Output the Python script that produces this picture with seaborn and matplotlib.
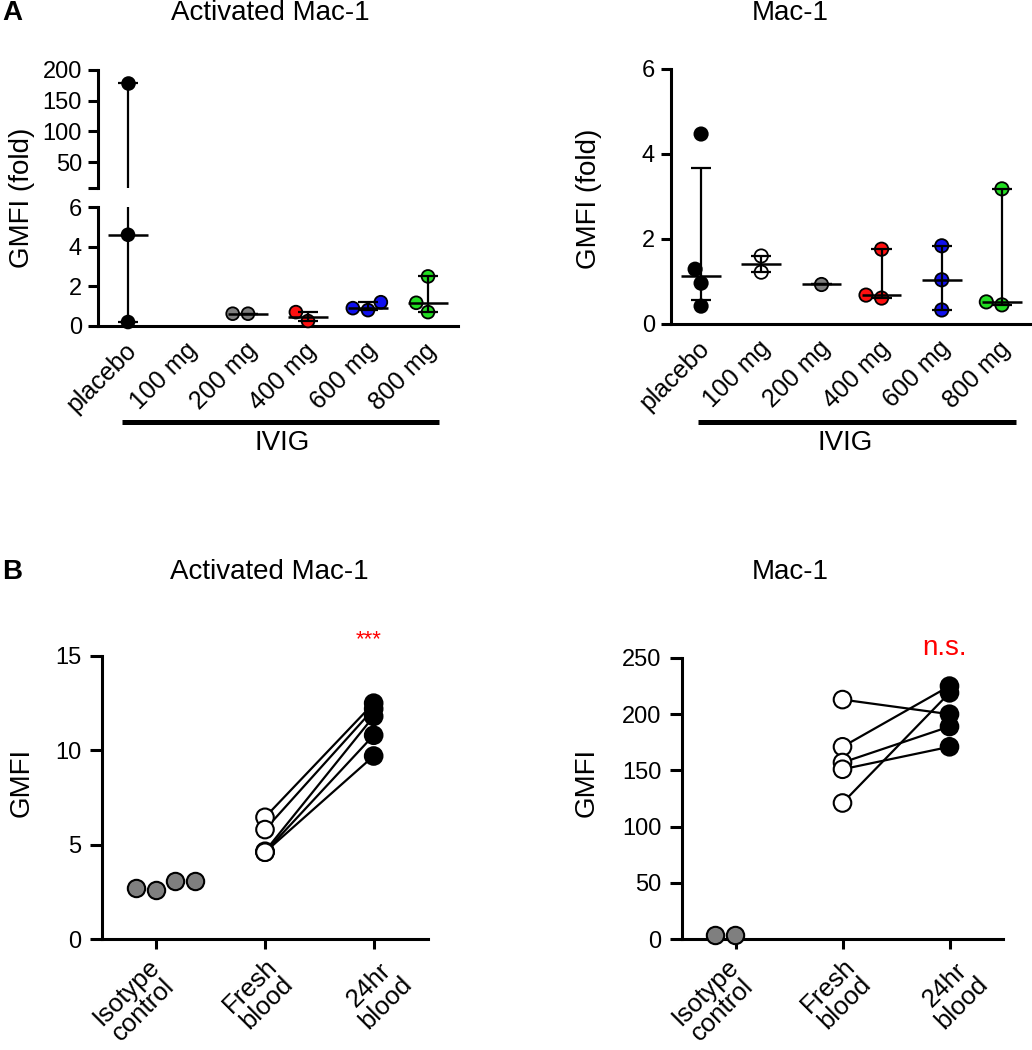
import numpy as np
import pandas as pd
import matplotlib
matplotlib.use("Agg")
import matplotlib.pyplot as plt
import matplotlib.transforms as mtransforms
from matplotlib.lines import Line2D
import seaborn as sns

# ---------------- data ----------------
doses = ["placebo", "100 mg", "200 mg", "400 mg", "600 mg", "800 mg"]

# Panel A, Activated Mac-1 (GMFI fold)
act_placebo = [179.0, 4.6, 0.2]
act_100 = []
act_200 = [0.62, 0.62]
act_400 = [0.25, 0.70]
act_600 = [1.2, 0.8, 0.9]
act_800 = [2.5, 1.17, 0.7]

# Panel A, Mac-1 (GMFI fold)
mac_placebo = [4.47, 1.29, 0.96, 0.42]
mac_100 = [1.22, 1.60]
mac_200 = [0.95]
mac_400 = [1.76, 0.61, 0.68]
mac_600 = [1.84, 1.04, 0.33]
mac_800 = [3.18, 0.45, 0.52]

# Panel B
conditions = ["Isotype\ncontrol", "Fresh\nblood", "24hr\nblood"]
iso_act = [3.05, 2.6, 2.7, 3.05]
fresh_act = [6.45, 5.8, 4.65, 4.6, 4.6]
h24_act = [12.5, 12.2, 11.8, 10.8, 9.7]
iso_mac = [3.5, 3.8]
fresh_mac = [213, 171, 157, 151, 121]
h24_mac = [200, 225, 189, 171, 219]

# ---------------- style ----------------
sns.set_theme(style="ticks")
plt.rcParams["font.family"] = ["Liberation Sans", "DejaVu Sans"]
plt.rcParams["axes.linewidth"] = 2.2
plt.rcParams["axes.edgecolor"] = "black"
for k in ["text.color", "xtick.color", "ytick.color", "axes.labelcolor"]:
    plt.rcParams[k] = "black"

dose_colors = {"placebo": "black", "100 mg": "white", "200 mg": "#7f7f7f",
               "400 mg": "#ff1010", "600 mg": "#1010ee", "800 mg": "#22dd22"}

W, H = 1032, 1050
fig = plt.figure(figsize=(W / 100, H / 100), dpi=100)


def ax_px(l, t, r, b):
    return fig.add_axes([l / W, 1 - b / H, (r - l) / W, (b - t) / H])


def ftext(x, y, s, **kw):
    fig.text(x / W, 1 - y / H, s, **kw)


def fline(x0, x1, y, lw):
    fig.add_artist(Line2D([x0 / W, x1 / W], [1 - y / H, 1 - y / H],
                          transform=fig.transFigure, color="black", lw=lw,
                          solid_capstyle="butt"))


def dose_frame(groups):
    rows = []
    for i, (d, vals) in enumerate(zip(doses, groups)):
        for v in vals:
            rows.append({"dose": d, "pos": float(i), "val": v})
    return pd.DataFrame(rows)


def swarm(ax, df, size, unclip):
    n0 = len(ax.collections)
    sns.swarmplot(data=df, x="pos", y="val", hue="dose", palette=dose_colors,
                  native_scale=True, orient="x", size=size, edgecolor="black",
                  linewidth=1.3, legend=False, ax=ax, zorder=3)
    if unclip:
        for c in ax.collections[n0:]:
            c.set_clip_on(False)


def median_iqr(ax, groups):
    for i, vals in enumerate(groups):
        if len(vals) == 0:
            continue
        q1, med, q3 = np.percentile(vals, [25, 50, 75], method="weibull")
        ax.vlines(i, q1, q3, color="black", lw=1.6, zorder=4)
        ax.hlines(med, i - 0.33, i + 0.33, color="black", lw=1.8, zorder=4)
        ax.hlines([q1, q3], i - 0.17, i + 0.17, color="black", lw=1.6, zorder=4)


def style_axis(ax, ticklen=7.5, pad=4):
    sns.despine(ax=ax)
    ax.tick_params(axis="y", direction="out", length=ticklen, width=2.2,
                   labelsize=17, pad=pad, color="black", labelcolor="black")
    ax.set_xlabel("")
    ax.set_ylabel("")
    ax.set_facecolor("none")


def rotate_labels(ax, dx_list, dy):
    for i, lab in enumerate(ax.get_xticklabels()):
        lab.set_rotation(45)
        lab.set_ha("right")
        lab.set_va("center")
        lab.set_rotation_mode("anchor")
        lab.set_multialignment("center")
        lab.set_linespacing(1.0)
        lab.set_transform(lab.get_transform() + mtransforms.ScaledTranslation(
            dx_list[i] / 100, -dy / 100, fig.dpi_scale_trans))


def dose_xlabels(ax):
    ax.set_xlim(-0.5, 5.5)
    ax.set_xticks(range(len(doses)))
    ax.set_xticklabels(doses)
    ax.tick_params(axis="x", length=0, pad=0, labelsize=18, labelcolor="black")
    rotate_labels(ax, [5] * len(doses), 21)


# ---------------- Panel A left (broken axis) ----------------
act_groups = [act_placebo, act_100, act_200, act_400, act_600, act_800]
df_act = dose_frame(act_groups)

axA_lo = ax_px(98, 207, 458, 326)
swarm(axA_lo, df_act, 9.2, unclip=True)
median_iqr(axA_lo, act_groups)
axA_lo.set_ylim(0, 6)
axA_lo.set_yticks([0, 2, 4, 6])
style_axis(axA_lo)
dose_xlabels(axA_lo)

hi_min = 8
axA_hi = ax_px(98, 70, 458, 188)
swarm(axA_hi, df_act[df_act["val"] > hi_min], 9.2, unclip=False)
median_iqr(axA_hi, act_groups)
axA_hi.set_ylim(hi_min, 200)
axA_hi.set_xlim(-0.5, 5.5)
axA_hi.set_yticks([50, 100, 150, 200])
axA_hi.set_yticks([hi_min], minor=True)
style_axis(axA_hi)
axA_hi.tick_params(axis="y", which="minor", direction="out", length=7.5, width=2.2)
axA_hi.spines["bottom"].set_visible(False)
axA_hi.set_xticks([])

ftext(22, 198, "GMFI (fold)", rotation=90, ha="center", va="center", fontsize=20)
ftext(270, 13, "Activated Mac-1", ha="center", va="center", fontsize=20)
fline(122, 439, 422, 3.6)
ftext(282, 443, "IVIG", ha="center", va="center", fontsize=20)

# ---------------- Panel A right ----------------
mac_groups = [mac_placebo, mac_100, mac_200, mac_400, mac_600, mac_800]
df_mac = dose_frame(mac_groups)
axA_r = ax_px(671, 69, 1032, 324)
swarm(axA_r, df_mac, 9.6, unclip=True)
median_iqr(axA_r, mac_groups)
axA_r.set_ylim(0, 6)
axA_r.set_yticks([0, 2, 4, 6])
style_axis(axA_r)
dose_xlabels(axA_r)

ftext(589, 199, "GMFI (fold)", rotation=90, ha="center", va="center", fontsize=20)
ftext(790, 13, "Mac-1", ha="center", va="center", fontsize=20)
fline(698, 1016, 422, 3.6)
ftext(845, 443, "IVIG", ha="center", va="center", fontsize=20)

ftext(12, 13, "A", ha="center", va="center", fontsize=20, fontweight="bold")


# ---------------- Panel B ----------------
def paired_panel(ax, iso, fresh, h24, ylim, yticks):
    iso_df = pd.DataFrame({"pos": 0.0, "val": iso})
    pairs = pd.DataFrame({
        "id": list(range(len(fresh))) * 2,
        "pos": [1.0] * len(fresh) + [2.0] * len(h24),
        "cond": ["fresh"] * len(fresh) + ["h24"] * len(h24),
        "val": list(fresh) + list(h24),
    })
    sns.lineplot(data=pairs, x="pos", y="val", units="id", estimator=None,
                 color="black", lw=1.6, ax=ax, legend=False, zorder=2)
    sns.scatterplot(data=pairs, x="pos", y="val", hue="cond",
                    palette={"fresh": "white", "h24": "black"}, s=160,
                    edgecolor="black", linewidth=1.5, legend=False, ax=ax, zorder=3)
    sns.swarmplot(data=iso_df, x="pos", y="val", native_scale=True, orient="x",
                  color="#7f7f7f", size=12.5, edgecolor="black", linewidth=1.5,
                  ax=ax, zorder=3)
    for c in ax.collections:
        c.set_clip_on(False)
    ax.set_xlim(-0.5, 2.5)
    ax.set_ylim(*ylim)
    ax.set_yticks(yticks)
    style_axis(ax, ticklen=9, pad=6)
    ax.set_xticks([0, 1, 2])
    ax.set_xticklabels(conditions)
    ax.tick_params(axis="x", direction="out", length=7.5, width=2.2, pad=0,
                   labelsize=18.5, labelcolor="black")
    rotate_labels(ax, [8, 17, 26], 22)


axB_l = ax_px(102, 656, 428, 939)
paired_panel(axB_l, iso_act, fresh_act, h24_act, (0, 15), [0, 5, 10, 15])
axB_r = ax_px(682, 658, 1003, 939)
paired_panel(axB_r, iso_mac, fresh_mac, h24_mac, (0, 250), [0, 50, 100, 150, 200, 250])

ftext(12, 572, "B", ha="center", va="center", fontsize=20, fontweight="bold")
ftext(269, 572, "Activated Mac-1", ha="center", va="center", fontsize=20)
ftext(790, 572, "Mac-1", ha="center", va="center", fontsize=20)
ftext(22, 782, "GMFI", rotation=90, ha="center", va="center", fontsize=20)
ftext(587, 782, "GMFI", rotation=90, ha="center", va="center", fontsize=20)
ftext(369, 640, "***", ha="center", va="center", fontsize=16, color="red")
ftext(944, 648, "n.s.", ha="center", va="center", fontsize=20, color="red")

fig.savefig("out.png", dpi=100)
